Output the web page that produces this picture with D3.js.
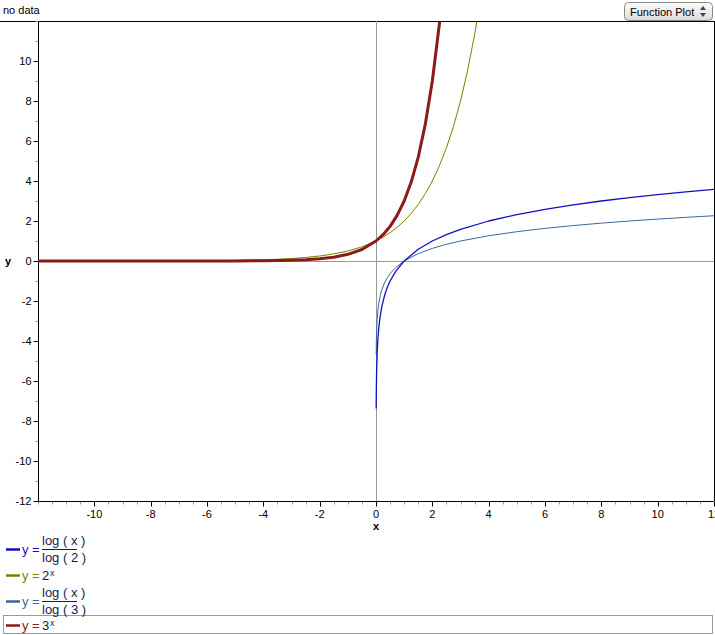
<!DOCTYPE html>
<html><head><meta charset="utf-8">
<script src="https://cdn.jsdelivr.net/npm/d3@7"></script>
<style>
body{margin:0;background:#fff;}
svg{display:block;font-family:"Liberation Sans",Arial,sans-serif;}
</style></head>
<body><svg id="c" width="715" height="635"></svg>
<script>
// ---- data ----
const xTickLabels = [-10,-8,-6,-4,-2,0,2,4,6,8,10,12];
const yTickLabels = [-12,-10,-8,-6,-4,-2,0,2,4,6,8,10];

const expX = [-12,-10,-8,-6,-5,-4,-3.5,-3,-2.5,-2,-1.5,-1,-0.5,0,0.25,0.5,0.75,1,1.25,1.5,1.75,2,2.25,2.5,2.75,3,3.25,3.5,3.6];
const pow2Y = [0.0002,0.001,0.0039,0.0156,0.031,0.0625,0.088,0.125,0.177,0.25,0.354,0.5,0.707,1,1.189,1.414,1.682,2,2.378,2.828,3.364,4,4.757,5.657,6.727,8,9.514,11.314,12.13];
const pow3X = [-12,-10,-8,-6,-5,-4,-3.5,-3,-2.5,-2,-1.5,-1,-0.5,0,0.25,0.5,0.75,1,1.25,1.5,1.75,2,2.25,2.3];
const pow3Y = [0,0,0.0002,0.0014,0.0041,0.0123,0.0214,0.037,0.064,0.111,0.192,0.333,0.577,1,1.316,1.732,2.280,3,3.948,5.196,6.839,9,11.845,12.51];

const logX = [0.006,0.01,0.02,0.04,0.07,0.1,0.15,0.2,0.3,0.4,0.5,0.7,1,1.5,2,2.5,3,4,5,6,7,8,9,10,11,12];
const log2Y = [-7.38,-6.64,-5.64,-4.64,-3.84,-3.32,-2.74,-2.32,-1.74,-1.32,-1,-0.515,0,0.585,1,1.32,1.585,2,2.32,2.585,2.807,3,3.17,3.32,3.46,3.585];
const log3Y = [-4.66,-4.19,-3.56,-2.93,-2.42,-2.10,-1.73,-1.46,-1.10,-0.834,-0.631,-0.325,0,0.369,0.631,0.834,1,1.262,1.465,1.631,1.771,1.893,2,2.096,2.183,2.262];

const seriesNames = ["log2","pow2","log3","pow3"];
const seriesColors = ["#1010c0","#808000","#3a6a9a","#8b1a1a"];
const seriesWidths = [1.3,1,1,3];

// ---- chart ----
const svg = d3.select("#c");
const x = d3.scaleLinear().domain([-12,12]).range([38,714]);
const y = d3.scaleLinear().domain([-12,12]).range([501,21]);

// header
svg.append("text").attr("x",3).attr("y",14).attr("font-size",11).text("no data");
const btn = svg.append("g");
const grad = svg.append("defs").append("linearGradient").attr("id","bg").attr("x1",0).attr("x2",0).attr("y1",0).attr("y2",1);
grad.append("stop").attr("offset","0%").attr("stop-color","#fdfdfd");
grad.append("stop").attr("offset","100%").attr("stop-color","#dcdcdc");
btn.append("rect").attr("x",624.5).attr("y",2.5).attr("width",88).attr("height",18).attr("rx",4)
  .attr("fill","url(#bg)").attr("stroke","#8a8a8a");
btn.append("text").attr("x",630).attr("y",16).attr("font-size",11).text("Function Plot");
btn.append("path").attr("d","M700,10 L703,6 L706,10 Z M700,13 L703,17 L706,13 Z").attr("fill","#444");

// frame
svg.append("line").attr("x1",0).attr("x2",714).attr("y1",21.5).attr("y2",21.5).attr("stroke","#000");
svg.append("line").attr("x1",714.5).attr("x2",714.5).attr("y1",21).attr("y2",501).attr("stroke","#000");

// zero lines
svg.append("line").attr("x1",x(-12)).attr("x2",x(12)).attr("y1",Math.round(y(0))+0.5).attr("y2",Math.round(y(0))+0.5).attr("stroke","#999");
svg.append("line").attr("x1",Math.round(x(0))+0.5).attr("x2",Math.round(x(0))+0.5).attr("y1",y(12)).attr("y2",y(-12)).attr("stroke","#999");

// axes
const xMinor = d3.range(-12,12.01,0.5);
const yMinor = d3.range(-12,12.01,1);
const gx = svg.append("g").attr("transform","translate(0,501.5)");
gx.selectAll("line.mi").data(xMinor).join("line").attr("class","mi")
  .attr("x1",d=>Math.round(x(d))+0.5).attr("x2",d=>Math.round(x(d))+0.5)
  .attr("y1",0).attr("y2",d=>xTickLabels.includes(d)?5:3)
  .attr("stroke",d=>xTickLabels.includes(d)?"#000":"#999");
gx.append("line").attr("x1",x(-12)).attr("x2",x(12)).attr("stroke","#000");
gx.selectAll("text").data(xTickLabels).join("text")
  .attr("x",d=>x(d)).attr("y",16).attr("text-anchor","middle").attr("font-size",11).text(d=>d);

const gy = svg.append("g").attr("transform","translate(38.5,0)");
gy.selectAll("line.mi").data(yMinor).join("line").attr("class","mi")
  .attr("y1",d=>Math.round(y(d))+0.5).attr("y2",d=>Math.round(y(d))+0.5)
  .attr("x1",0).attr("x2",d=>yTickLabels.includes(d)?-5:-3)
  .attr("stroke",d=>yTickLabels.includes(d)?"#000":"#999");
gy.append("line").attr("y1",y(12)).attr("y2",y(-12)).attr("stroke","#000");
gy.selectAll("text").data(yTickLabels).join("text")
  .attr("x",-7).attr("y",d=>y(d)+4).attr("text-anchor","end").attr("font-size",11).text(d=>d);

svg.append("text").attr("x",8).attr("y",265).attr("font-size",11).attr("font-weight","bold").attr("text-anchor","middle").text("y");
svg.append("text").attr("x",x(0)).attr("y",530).attr("font-size",11).attr("font-weight","bold").attr("text-anchor","middle").text("x");

// curves
svg.append("defs").append("clipPath").attr("id","clip").append("rect")
  .attr("x",38).attr("y",22).attr("width",676).attr("height",479);
const line = d3.line().x(d=>x(d[0])).y(d=>y(d[1]));
const curves = [
  d3.zip(logX,log2Y),
  d3.zip(expX,pow2Y),
  d3.zip(logX,log3Y),
  d3.zip(pow3X,pow3Y)
];
const order = [2,0,1,3];
const gc = svg.append("g").attr("clip-path","url(#clip)");
order.forEach(i=>{
  gc.append("path").attr("d",line(curves[i])).attr("fill","none")
    .attr("stroke",seriesColors[i]).attr("stroke-width",seriesWidths[i]).attr("stroke-linejoin","round");
});

// legend
const legendY = [549,575,601,625];
const textCol = "#1a1a50";
// selection box
svg.append("rect").attr("x",3.5).attr("y",615.5).attr("width",709).attr("height",18).attr("fill","none").attr("stroke","#999");
seriesNames.forEach((n,i)=>{
  const cy = legendY[i];
  const g = svg.append("g");
  g.append("line").attr("x1",6).attr("x2",20).attr("y1",cy+0.5).attr("y2",cy+0.5)
    .attr("stroke",seriesColors[i]).attr("stroke-width",2.5);
  g.append("text").attr("x",22).attr("y",cy+5).attr("font-size",13).attr("fill",seriesColors[i]).text("y =");
  if(n==="log2"||n==="log3"){
    const base = n==="log2"?"2":"3";
    g.append("text").attr("x",42).attr("y",cy-4).attr("font-size",13).attr("fill",textCol).text("log ( x )");
    g.append("line").attr("x1",42).attr("x2",77).attr("y1",cy+0.5).attr("y2",cy+0.5).attr("stroke",textCol);
    g.append("text").attr("x",42).attr("y",cy+13).attr("font-size",13).attr("fill",textCol).text("log ( "+base+" )");
  } else {
    const base = n==="pow2"?"2":"3";
    g.append("text").attr("x",42).attr("y",cy+5).attr("font-size",13).attr("fill",textCol).text(base);
    g.append("text").attr("x",50).attr("y",cy+1).attr("font-size",9).attr("fill",textCol).text("x");
  }
});
</script></body></html>
